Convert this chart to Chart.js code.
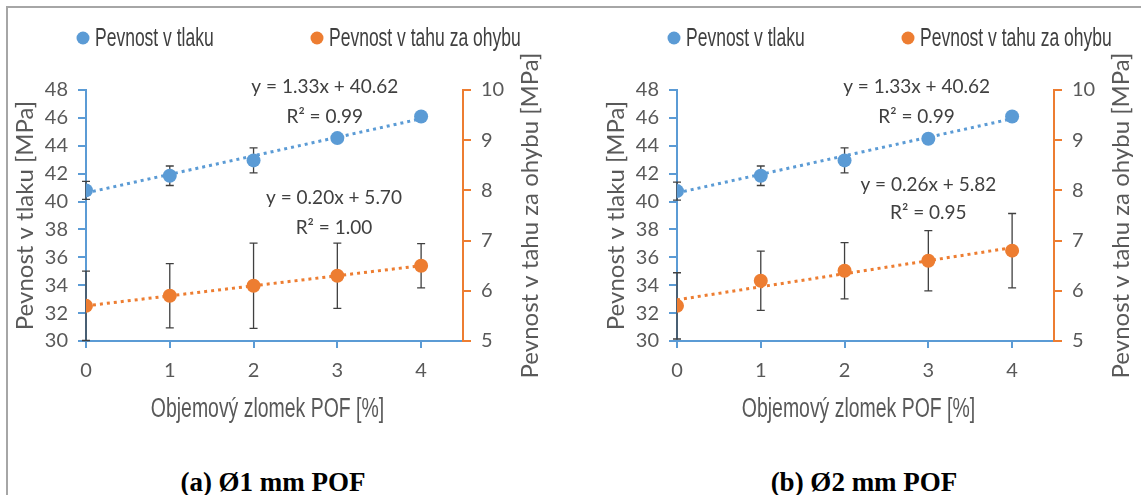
<!DOCTYPE html>
<html>
<head>
<meta charset="utf-8">
<script src="https://cdn.jsdelivr.net/npm/chart.js@4.4.1/dist/chart.umd.min.js"></script>
<style>
  html, body { margin: 0; padding: 0; background: #fff; }
  #page { position: relative; width: 1141px; height: 495px; overflow: hidden; }
  #frame { position: absolute; left: 6px; top: 6px; width: 1160px; height: 520px;
           border-top: 2px solid #a6a6a6; border-left: 2px solid #a6a6a6; }
  .panel { position: absolute; top: 0; width: 550px; height: 495px; }
  .panel canvas { position: absolute; left: 0; top: 0; }
  .cap { position: absolute; left: 0; width: 546px; top: 467px; text-align: center;
         font: bold 27px 'Liberation Serif', 'Times New Roman', serif; color: #000; }
</style>
</head>
<body>
<div id="page">
  <div id="frame"></div>
  <div class="panel" style="left:0px">
    <canvas id="chartA" width="550" height="440"></canvas>
    <div class="cap">(a) Ø1 mm POF</div>
  </div>
  <div class="panel" style="left:591px">
    <canvas id="chartB" width="550" height="440"></canvas>
    <div class="cap">(b) Ø2 mm POF</div>
  </div>
</div>
<script>
// x = objemový zlomek POF [%]
const xVals = [0, 1, 2, 3, 4];

// (a) Ø1 mm POF
const tlakA = [40.8, 41.85, 42.95, 44.55, 46.1];
const tlakErrA = [0.65, 0.7, 0.9, 0.3, 0.15];
const ohybA = [5.7, 5.9, 6.1, 6.3, 6.5];
const ohybErrA = [0.69, 0.64, 0.85, 0.65, 0.44];
const trendTlakA = [40.62, 45.94];   // at x = 0 and x = 4
const trendOhybA = [5.70, 6.50];
const notesA = ['y = 1.33x + 40.62', 'R² = 0.99', 'y = 0.20x + 5.70', 'R² = 1.00'];

// (b) Ø2 mm POF
const tlakB = [40.75, 41.85, 42.95, 44.5, 46.1];
const tlakErrB = [0.65, 0.7, 0.9, 0.3, 0.15];
const ohybB = [5.7, 6.2, 6.4, 6.6, 6.8];
const ohybErrB = [0.66, 0.59, 0.56, 0.6, 0.74];
const trendTlakB = [40.62, 45.94];
const trendOhybB = [5.82, 6.86];
const notesB = ['y = 1.33x + 40.62', 'R² = 0.99', 'y = 0.26x + 5.82', 'R² = 0.95'];

const leftTicks = { min: 30, max: 48, step: 2 };
const rightTicks = { min: 5, max: 10, step: 1 };

const BLUE = '#5b9bd5';
const ORANGE = '#ed7d31';
const TXT = '#595959';
const SANS = "Lato, 'Open Sans', sans-serif";
const ARIAL = "'Liberation Sans', Arial, sans-serif";

function squeezed(ctx, text, x, y, sx, font, color, align) {
    ctx.save();
    ctx.translate(x, y);
    ctx.scale(sx, 1);
    ctx.font = font;
    ctx.fillStyle = color;
    ctx.textAlign = align;
    ctx.textBaseline = 'middle';
    ctx.fillText(text, 0, 0);
    ctx.restore();
}

const extras = {
    id: 'extras',
    beforeDatasetsDraw(chart) {
        const ctx = chart.ctx;
        const xs = chart.scales.x;
        chart.data.datasets.forEach(ds => {
            if (!ds.errors) return;
            const ys = chart.scales[ds.yAxisID];
            ctx.save();
            ctx.strokeStyle = '#404040';
            ctx.lineWidth = 1.3;
            ds.data.forEach((p, j) => {
                const e = ds.errors[j];
                const px = xs.getPixelForValue(p.x);
                const top = ys.getPixelForValue(p.y + e);
                const bot = ys.getPixelForValue(p.y - e);
                ctx.beginPath();
                ctx.moveTo(px, top); ctx.lineTo(px, bot);
                ctx.moveTo(px - 4, top); ctx.lineTo(px + 4, top);
                ctx.moveTo(px - 4, bot); ctx.lineTo(px + 4, bot);
                ctx.stroke();
            });
            ctx.restore();
        });
    },
    afterDraw(chart, args, opts) {
        const ctx = chart.ctx;
        const area = chart.chartArea;
        const xs = chart.scales.x, ys = chart.scales.y;

        // legend (dots + narrow text)
        const items = chart.data.datasets.filter(d => d.inLegend);
        const legendX = [area.left - 3, area.left + 231];
        items.forEach((d, i) => {
            const cx = legendX[i];
            ctx.save();
            ctx.fillStyle = d.backgroundColor;
            ctx.beginPath();
            ctx.arc(cx, 38, 6.5, 0, Math.PI * 2);
            ctx.fill();
            ctx.restore();
            squeezed(ctx, d.label, cx + 12, 39, 0.7, '25px ' + ARIAL, '#404040', 'left');
        });

        // trend line equations
        opts.notes.forEach(n => {
            ctx.save();
            ctx.font = '19px ' + SANS;
            ctx.fillStyle = '#404040';
            ctx.textAlign = 'center';
            ctx.textBaseline = 'middle';
            ctx.fillText(n.text, xs.getPixelForValue(n.x), ys.getPixelForValue(n.y));
            ctx.restore();
        });

        // x axis title
        squeezed(ctx, 'Objemový zlomek POF [%]', (area.left + area.right) / 2 - 7, 410,
                 0.72, '27px ' + ARIAL, TXT, 'center');

        // right axis title, reading bottom to top
        ctx.save();
        ctx.translate(530, (area.top + area.bottom) / 2);
        ctx.rotate(-Math.PI / 2);
        ctx.font = '24px ' + SANS;
        ctx.fillStyle = TXT;
        ctx.textAlign = 'center';
        ctx.textBaseline = 'middle';
        ctx.fillText('Pevnost v tahu za ohybu [MPa]', 0, 0);
        ctx.restore();
    }
};

function buildChart(id, tlak, tlakErr, ohyb, ohybErr, trendTlak, trendOhyb, notes, notePos) {
    const pts = vals => xVals.map((x, i) => ({ x: x, y: vals[i] }));
    const trend = t => [{ x: xVals[0], y: t[0] }, { x: xVals[xVals.length - 1], y: t[1] }];

    return new Chart(document.getElementById(id).getContext('2d'), {
        type: 'scatter',
        data: {
            datasets: [
                {
                    label: 'Pevnost v tlaku',
                    data: pts(tlak),
                    errors: tlakErr,
                    inLegend: true,
                    yAxisID: 'y',
                    backgroundColor: BLUE,
                    borderColor: BLUE,
                    pointRadius: 7,
                    pointBorderWidth: 0
                },
                {
                    label: 'Pevnost v tahu za ohybu',
                    data: pts(ohyb),
                    errors: ohybErr,
                    inLegend: true,
                    yAxisID: 'y1',
                    backgroundColor: ORANGE,
                    borderColor: ORANGE,
                    pointRadius: 7,
                    pointBorderWidth: 0
                },
                {
                    label: 'trend tlak',
                    data: trend(trendTlak),
                    yAxisID: 'y',
                    showLine: true,
                    borderColor: BLUE,
                    borderWidth: 3,
                    borderDash: [3, 4],
                    pointRadius: 0
                },
                {
                    label: 'trend ohyb',
                    data: trend(trendOhyb),
                    yAxisID: 'y1',
                    showLine: true,
                    borderColor: ORANGE,
                    borderWidth: 3,
                    borderDash: [3, 4],
                    pointRadius: 0
                }
            ]
        },
        options: {
            responsive: false,
            animation: false,
            devicePixelRatio: 1,
            layout: { padding: { top: 90, left: 0, right: 0, bottom: 0 } },
            scales: {
                x: {
                    type: 'linear',
                    min: 0,
                    max: 4.5,
                    afterFit: s => { s.height = 99; },
                    afterBuildTicks: s => { s.ticks = xVals.map(v => ({ value: v })); },
                    ticks: { stepSize: 1, color: TXT, font: { family: SANS, size: 20 }, padding: 11 },
                    grid: { drawOnChartArea: false, drawTicks: true, tickLength: 7, color: BLUE, lineWidth: 2 },
                    border: { color: BLUE, width: 2 }
                },
                y: {
                    position: 'left',
                    min: leftTicks.min,
                    max: leftTicks.max,
                    afterFit: s => { s.width = 86; },
                    ticks: { stepSize: leftTicks.step, color: TXT, font: { family: SANS, size: 20 }, padding: 10 },
                    grid: { drawOnChartArea: false, drawTicks: true, tickLength: 8, color: BLUE, lineWidth: 2 },
                    border: { color: BLUE, width: 2 },
                    title: { display: true, text: 'Pevnost v tlaku [MPa]', color: TXT,
                             font: { family: SANS, size: 24 }, padding: { top: 11 } }
                },
                y1: {
                    position: 'right',
                    min: rightTicks.min,
                    max: rightTicks.max,
                    afterFit: s => { s.width = 87; },
                    ticks: { stepSize: rightTicks.step, color: TXT, font: { family: SANS, size: 20 }, padding: 10 },
                    grid: { drawOnChartArea: false, drawTicks: true, tickLength: 8, color: ORANGE, lineWidth: 2 },
                    border: { color: ORANGE, width: 2 }
                }
            },
            plugins: {
                legend: { display: false },
                tooltip: { enabled: false },
                extras: {
                    notes: notes.map((t, i) => ({ text: t, x: notePos[i][0], y: notePos[i][1] }))
                }
            }
        },
        plugins: [extras]
    });
}

// label anchors in axis units (x, left axis)
buildChart('chartA', tlakA, tlakErrA, ohybA, ohybErrA, trendTlakA, trendOhybA, notesA,
    [[2.85, 48.2], [2.85, 46.05], [2.96, 40.25], [2.96, 38.1]]);
buildChart('chartB', tlakB, tlakErrB, ohybB, ohybErrB, trendTlakB, trendOhybB, notesB,
    [[2.86, 48.2], [2.86, 46.05], [3.0, 41.2], [3.0, 39.2]]);
</script>
</body>
</html>
